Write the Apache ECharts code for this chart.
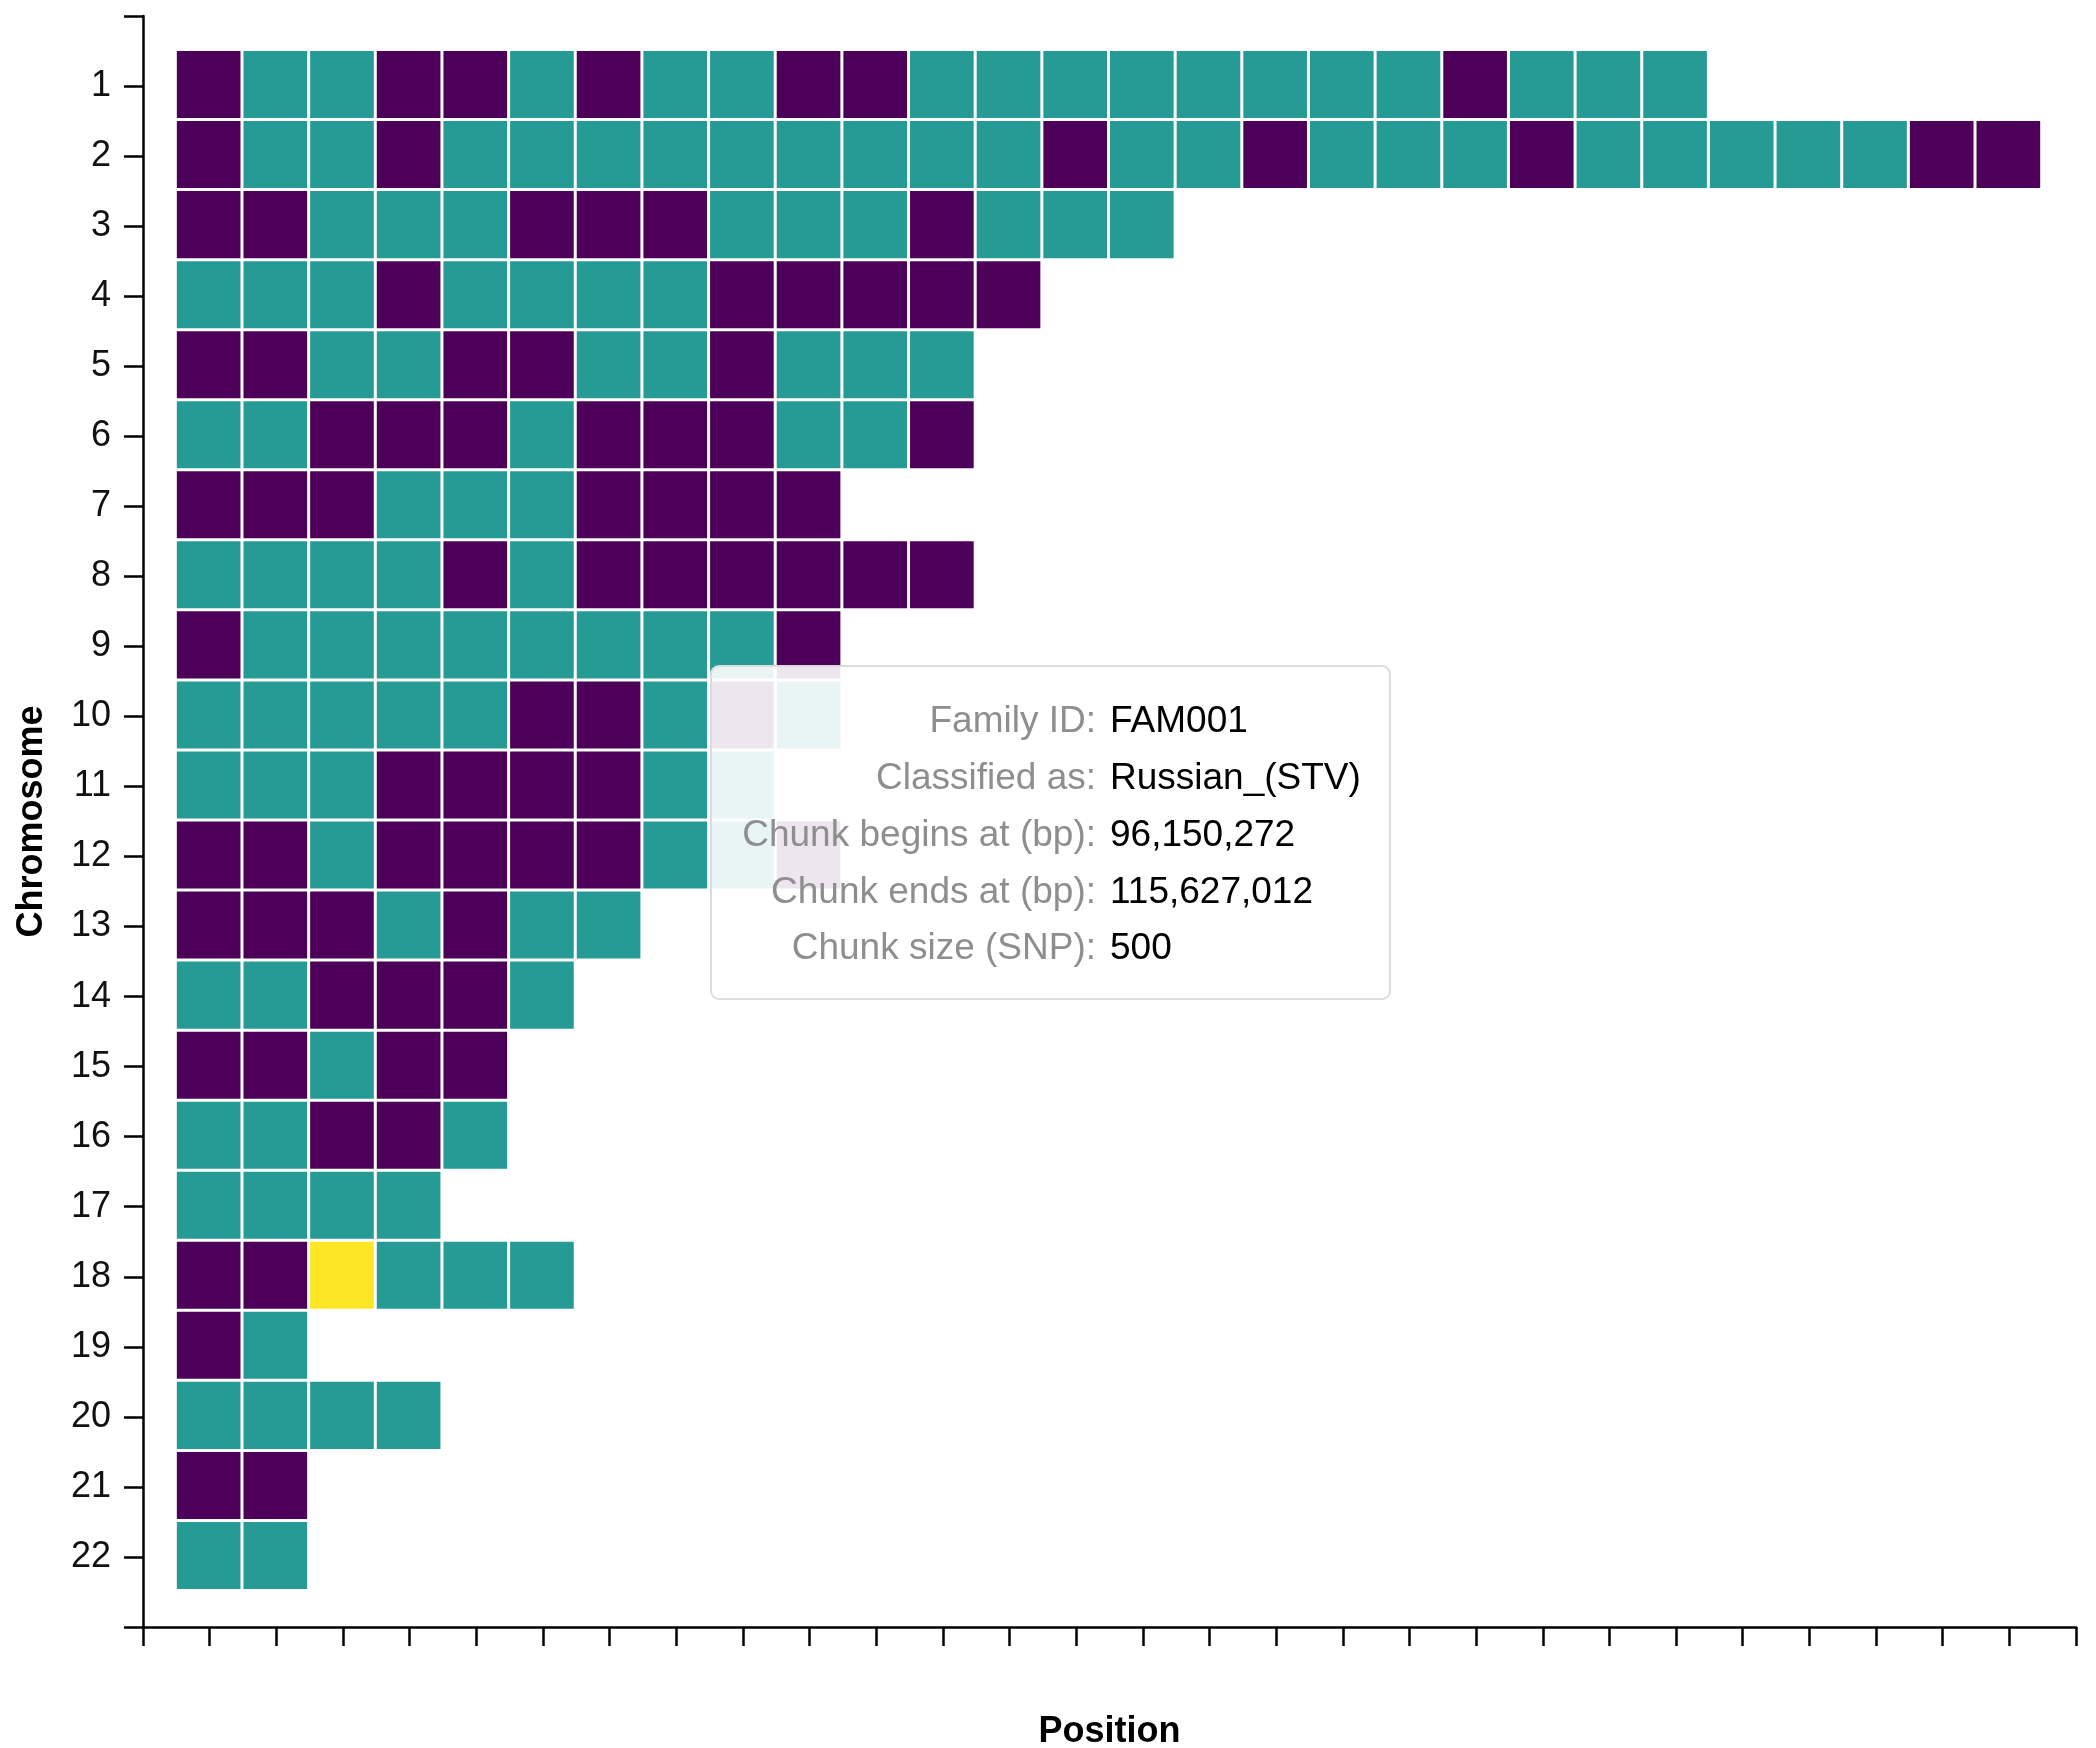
<!DOCTYPE html>
<html>
<head>
<meta charset="utf-8">
<title>Chromosome painting – FAM001</title>
<script src="https://cdn.jsdelivr.net/npm/echarts@6/dist/echarts.min.js"></script>
<style>
  html, body { margin: 0; padding: 0; background: #ffffff; }
  #chart { width: 2096px; height: 1748px; }
</style>
</head>
<body>
<div id="chart"></div>
<script>
// Ancestry class assigned to each chunk along a chromosome, in genomic order.
// 0, 1, 2 index into classColors.
const chr1  = [0,1,1,0,0,1,0,1,1,0,0,1,1,1,1,1,1,1,1,0,1,1,1];
const chr2  = [0,1,1,0,1,1,1,1,1,1,1,1,1,0,1,1,0,1,1,1,0,1,1,1,1,1,0,0];
const chr3  = [0,0,1,1,1,0,0,0,1,1,1,0,1,1,1];
const chr4  = [1,1,1,0,1,1,1,1,0,0,0,0,0];
const chr5  = [0,0,1,1,0,0,1,1,0,1,1,1];
const chr6  = [1,1,0,0,0,1,0,0,0,1,1,0];
const chr7  = [0,0,0,1,1,1,0,0,0,0];
const chr8  = [1,1,1,1,0,1,0,0,0,0,0,0];
const chr9  = [0,1,1,1,1,1,1,1,1,0];
const chr10 = [1,1,1,1,1,0,0,1,0,1];
const chr11 = [1,1,1,0,0,0,0,1,1];
const chr12 = [0,0,1,0,0,0,0,1,1,0];
const chr13 = [0,0,0,1,0,1,1];
const chr14 = [1,1,0,0,0,1];
const chr15 = [0,0,1,0,0];
const chr16 = [1,1,0,0,1];
const chr17 = [1,1,1,1];
const chr18 = [0,0,2,1,1,1];
const chr19 = [0,1];
const chr20 = [1,1,1,1];
const chr21 = [0,0];
const chr22 = [1,1];

// Chromosome tick labels (y axis)
const chromosomes = [1,2,3,4,5,6,7,8,9,10,11,12,13,14,15,16,17,18,19,20,21,22];

// Details of the chunk currently shown in the info box
const tipLabels = ['Family ID:', 'Classified as:', 'Chunk begins at (bp):', 'Chunk ends at (bp):', 'Chunk size (SNP):'];
const tipValues = ['FAM001', 'Russian_(STV)', '96,150,272', '115,627,012', '500'];

const classColors = ['#4d0059', '#269b96', '#fde725'];
const FONT = '"Liberation Sans", Arial, Helvetica, sans-serif';

const chromosomeChunks = [chr1, chr2, chr3, chr4, chr5, chr6, chr7, chr8, chr9, chr10, chr11,
  chr12, chr13, chr14, chr15, chr16, chr17, chr18, chr19, chr20, chr21, chr22];

const cells = [];
chromosomeChunks.forEach((chunks, i) => {
  chunks.forEach((cls, j) => cells.push([j + 1, chromosomes[i], cls]));
});

const chart = echarts.init(document.getElementById('chart'), null, { renderer: 'canvas' });

const GAP = 3;
function renderCell(params, api) {
  const x = api.value(0), y = api.value(1);
  const a = api.coord([x - 0.5, y - 0.5]);
  const b = api.coord([x + 0.5, y + 0.5]);
  const left = Math.min(a[0], b[0]), top = Math.min(a[1], b[1]);
  const w = Math.abs(b[0] - a[0]) - GAP, h = Math.abs(b[1] - a[1]) - GAP;
  return {
    type: 'rect',
    shape: { x: left + 0.5, y: top, width: w, height: h },
    style: { fill: classColors[api.value(2)] }
  };
}

// Info box for the hovered chunk, drawn on its own layer above the cells
const boxX = 711, boxY = 666, boxW = 679, boxH = 333;
const LAYER = { zlevel: 5, z: 100 };
const tipChildren = [Object.assign({
  type: 'rect',
  shape: { x: 0, y: 0, width: boxW, height: boxH, r: 8 },
  style: { fill: 'rgba(255,255,255,0.9)', stroke: '#dcdcdc', lineWidth: 2 }
}, LAYER)];
tipLabels.forEach((label, i) => {
  const ty = 56 + i * 56.8;
  tipChildren.push(Object.assign({
    type: 'text', x: 385, y: ty,
    style: { text: label, fill: '#8e8e8e', fontSize: 37, fontFamily: FONT,
             align: 'right', textAlign: 'right', verticalAlign: 'middle', textVerticalAlign: 'middle' }
  }, LAYER, { z: 101 }));
  tipChildren.push(Object.assign({
    type: 'text', x: 399, y: ty,
    style: { text: tipValues[i], fill: '#000000', fontSize: 37, fontFamily: FONT,
             align: 'left', textAlign: 'left', verticalAlign: 'middle', textVerticalAlign: 'middle' }
  }, LAYER, { z: 101 }));
});

const axisLine = { show: true, onZero: false, lineStyle: { color: '#000', width: 2.5 } };
const axisTick = { show: true, inside: false, length: 19, lineStyle: { color: '#000', width: 2.5 } };

chart.setOption({
  animation: false,
  backgroundColor: '#ffffff',
  grid: { left: 143, top: 16, right: 20, bottom: 121, containLabel: false, outerBoundsMode: 'none' },
  xAxis: {
    type: 'value', min: 0, max: 29, interval: 1,
    name: 'Position', nameLocation: 'middle', nameGap: 87,
    nameTextStyle: { fontFamily: FONT, fontWeight: 'bold', fontSize: 36, color: '#000' },
    axisLine, axisTick,
    axisLabel: { show: false },
    splitLine: { show: false }
  },
  yAxis: {
    type: 'value', inverse: true, min: 0, max: 23, interval: 1,
    name: 'Chromosome', nameLocation: 'middle', nameGap: 93, nameRotate: 90,
    nameTextStyle: { fontFamily: FONT, fontWeight: 'bold', fontSize: 36, color: '#000' },
    axisLine, axisTick,
    axisLabel: {
      show: true, margin: 32, fontSize: 36, fontFamily: FONT, color: '#111',
      formatter: v => (chromosomes.indexOf(v) >= 0 ? String(v) : ''),
      showMinLabel: true, showMaxLabel: true
    },
    splitLine: { show: false }
  },
  series: [{
    type: 'custom',
    renderItem: renderCell,
    encode: { x: 0, y: 1 },
    data: cells,
    silent: true
  }],
  graphic: [{
    type: 'group', x: boxX, y: boxY, zlevel: 5, z: 100,
    children: tipChildren
  }]
});
</script>
</body>
</html>
